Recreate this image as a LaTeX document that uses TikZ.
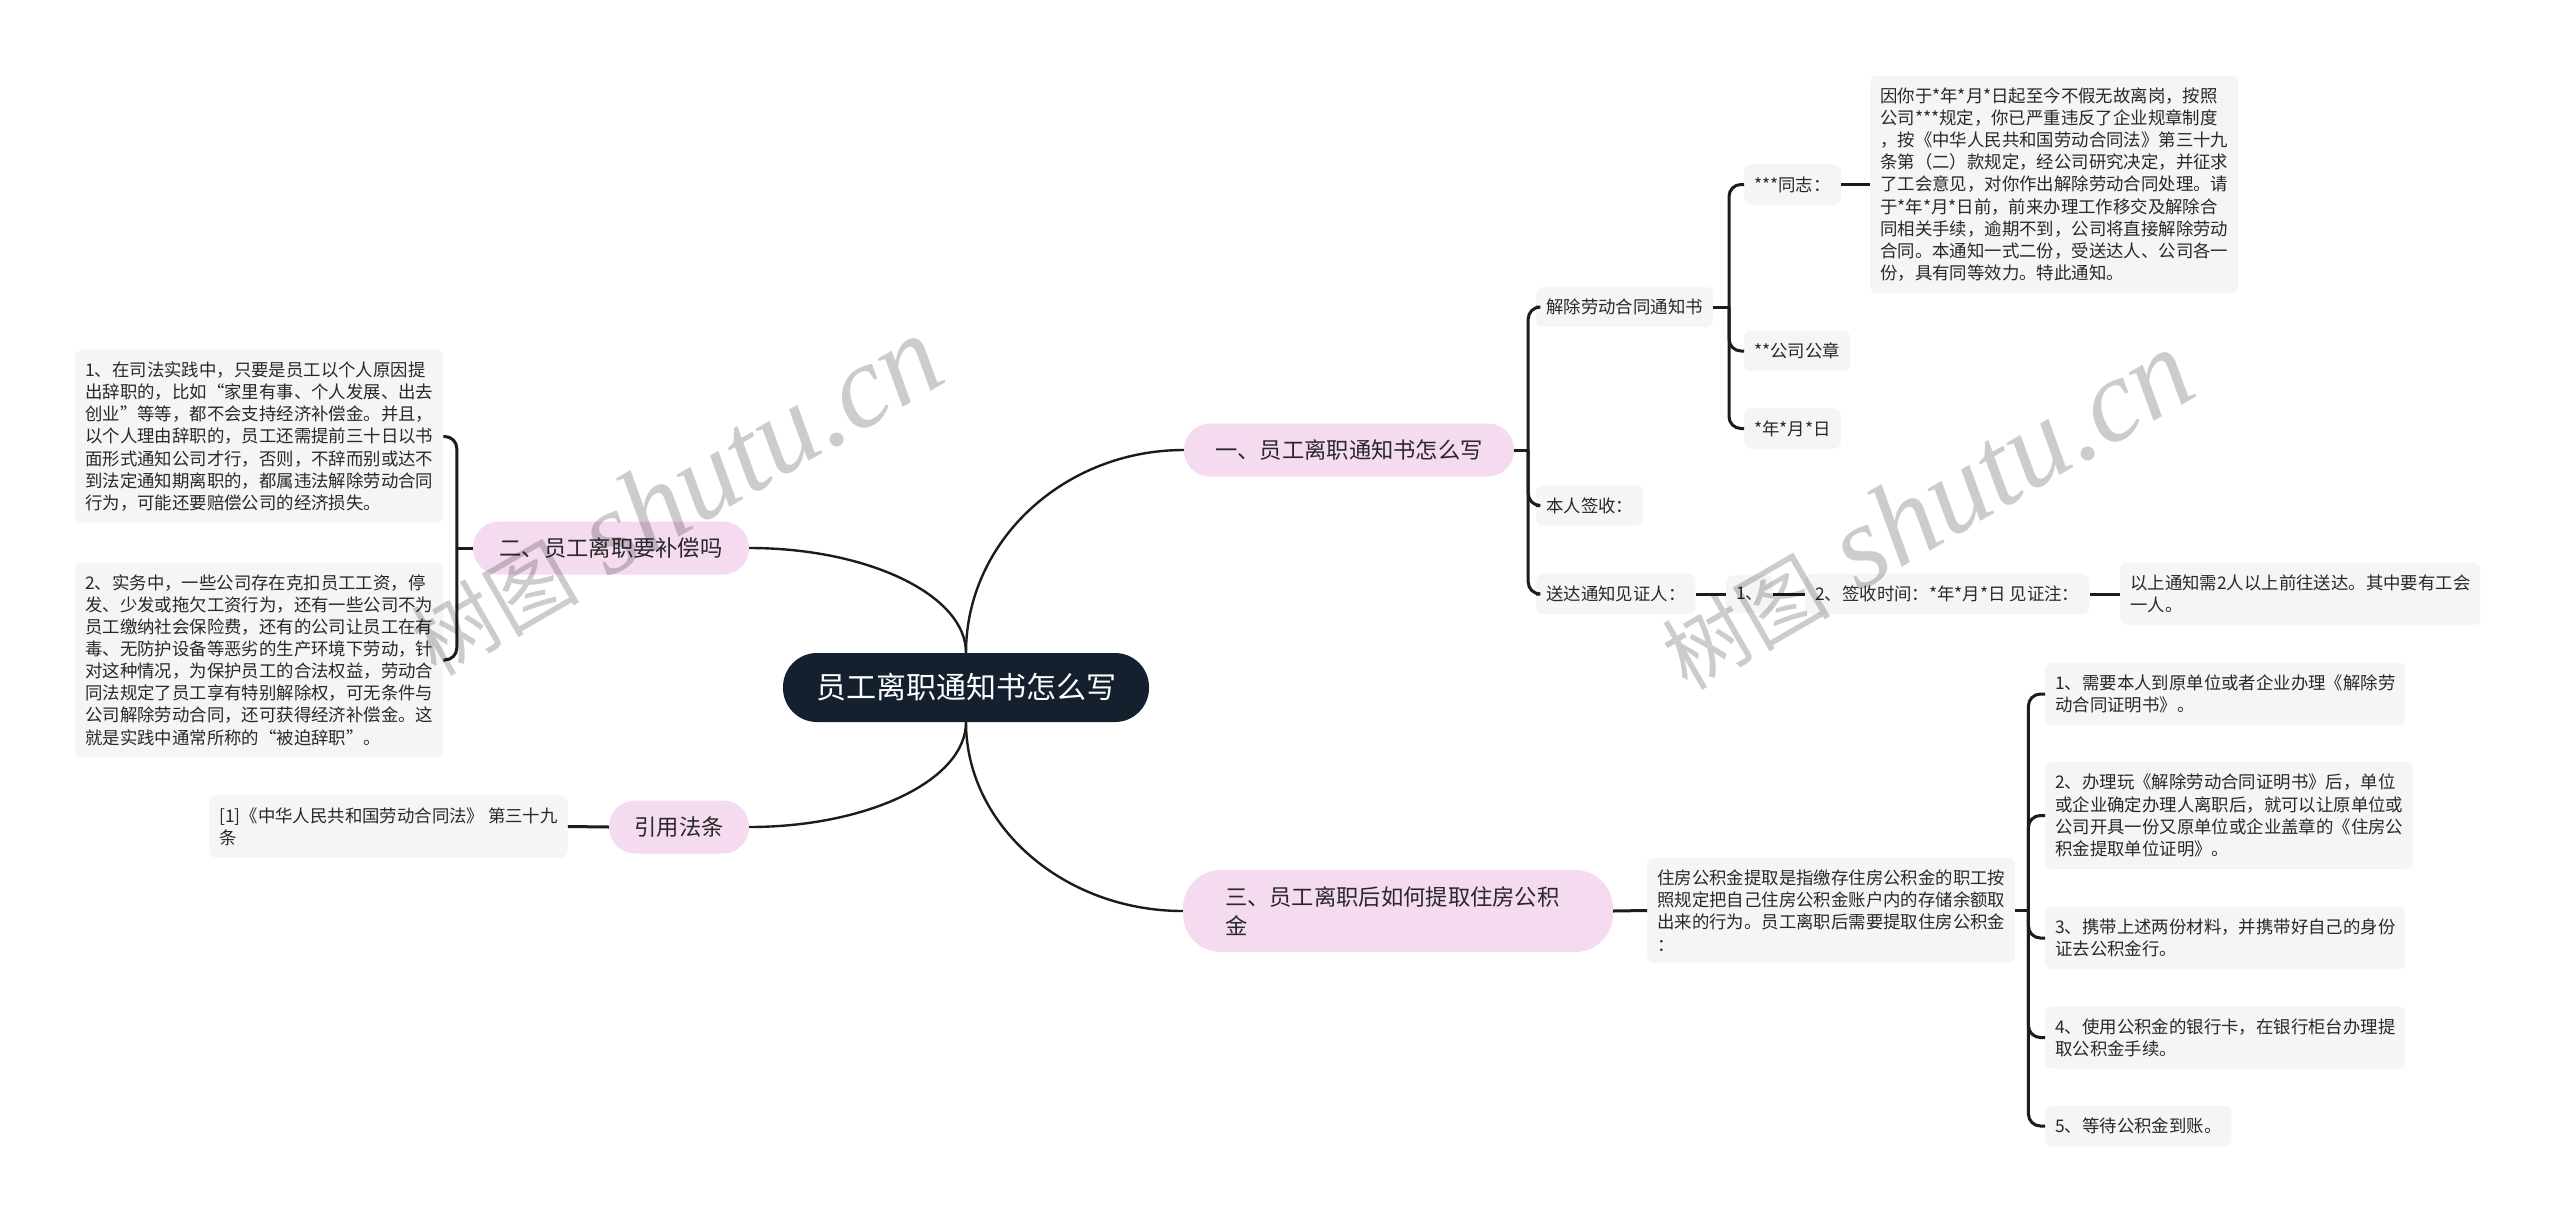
\documentclass[tikz,border=0pt]{standalone}
\usepackage{fontspec}
\newfontfamily\cjk{Noto Sans CJK SC}
\newfontfamily\wmlat{Liberation Serif}
\definecolor{pinkfill}{RGB}{245,219,239}
\definecolor{rootfill}{RGB}{21,32,47}
\definecolor{leafgray}{RGB}{245,245,245}
\definecolor{linecol}{RGB}{28,28,28}
\definecolor{txt}{RGB}{40,40,40}
\begin{document}
\begin{tikzpicture}[x=1pt,y=-1pt,
  leaf/.style={fill=leafgray, rounded corners=7pt, inner xsep=10pt, inner ysep=12pt,
    align=left, anchor=west, text=txt, font=\cjk\fontsize{17.4}{22.1}\selectfont},
  branch/.style={fill=pinkfill, rounded corners=26pt, minimum height=53pt, inner xsep=0pt,
    text=txt, font=\cjk\fontsize{22.3}{29}\selectfont},
  rootbox/.style={fill=rootfill, text=white, rounded corners=34pt, minimum height=69pt,
    minimum width=366pt, font=\cjk\fontsize{30}{36}\selectfont},
  conn/.style={draw=linecol, line width=3pt, rounded corners=12pt},
  curve/.style={draw=linecol, line width=2.4pt},
  wm/.style={rotate=30, text=black, text opacity=0.2, inner sep=0pt}
]
\useasboundingbox (0,0) rectangle (2560,1221);
\fill[white] (0,0) rectangle (2560,1221);

% root and main branches
\node[rootbox] (root) at (966,687.5) {员工离职通知书怎么写};
\node[branch, minimum width=330pt] (b1) at (1349,450) {一、员工离职通知书怎么写};
\node[branch, minimum width=276pt] (b2) at (611,548) {二、员工离职要补偿吗};
\node[branch, minimum width=430pt, minimum height=82pt, rounded corners=38pt, align=left,
  text width=346pt, inner xsep=42pt] (b3) at (1398,911) {三、员工离职后如何提取住房公积\\金};
\node[branch, minimum width=140pt] (b4) at (679,827) {引用法条};

% branch 1 subtree
\node[leaf] (n1) at (1536,307) {解除劳动合同通知书};
\node[leaf] (n11) at (1744,184.5) {***同志：};
\node[leaf] (n111) at (1870,184.5) {因你于*年*月*日起至今不假无故离岗，按照\\
公司***规定，你已严重违反了企业规章制度\\
，按《中华人民共和国劳动合同法》第三十九\\
条第（二）款规定，经公司研究决定，并征求\\
了工会意见，对你作出解除劳动合同处理。请\\
于*年*月*日前，前来办理工作移交及解除合\\
同相关手续，逾期不到，公司将直接解除劳动\\
合同。本通知一式二份，受送达人、公司各一\\
份，具有同等效力。特此通知。};
\node[leaf] (n12) at (1744,351) {**公司公章};
\node[leaf] (n13) at (1744,428.5) {*年*月*日};
\node[leaf] (n2) at (1536,505.5) {本人签收：};
\node[leaf] (n3) at (1536,594) {送达通知见证人：};
\node[leaf] (n31) at (1726,594) {1、};
\node[leaf] (n32) at (1805,594) {2、签收时间：*年*月*日 见证注：};
\node[leaf] (n33) at (2120,594) {以上通知需2人以上前往送达。其中要有工会\\一人。};

% branch 3 subtree
\node[leaf] (s0) at (1647,910.5) {住房公积金提取是指缴存住房公积金的职工按\\
照规定把自己住房公积金账户内的存储余额取\\
出来的行为。员工离职后需要提取住房公积金\\
：};
\node[leaf] (s1) at (2045,694) {1、需要本人到原单位或者企业办理《解除劳\\动合同证明书》。};
\node[leaf] (s2) at (2045,815.5) {2、办理玩《解除劳动合同证明书》后，单位\\
或企业确定办理人离职后，就可以让原单位或\\
公司开具一份又原单位或企业盖章的《住房公\\
积金提取单位证明》。};
\node[leaf] (s3) at (2045,938) {3、携带上述两份材料，并携带好自己的身份\\证去公积金行。};
\node[leaf] (s4) at (2045,1037.5) {4、使用公积金的银行卡，在银行柜台办理提\\取公积金手续。};
\node[leaf] (s5) at (2045,1126) {5、等待公积金到账。};

% branch 2 subtree
\node[leaf] (l1) at (75,436.5) {1、在司法实践中，只要是员工以个人原因提\\
出辞职的，比如“家里有事、个人发展、出去\\
创业”等等，都不会支持经济补偿金。并且，\\
以个人理由辞职的，员工还需提前三十日以书\\
面形式通知公司才行，否则，不辞而别或达不\\
到法定通知期离职的，都属违法解除劳动合同\\
行为，可能还要赔偿公司的经济损失。};
\node[leaf] (l2) at (75,660) {2、实务中，一些公司存在克扣员工工资，停\\
发、少发或拖欠工资行为，还有一些公司不为\\
员工缴纳社会保险费，还有的公司让员工在有\\
毒、无防护设备等恶劣的生产环境下劳动，针\\
对这种情况，为保护员工的合法权益，劳动合\\
同法规定了员工享有特别解除权，可无条件与\\
公司解除劳动合同，还可获得经济补偿金。这\\
就是实践中通常所称的“被迫辞职”。};

% branch 4 subtree
\node[leaf] (r1) at (209,826.5) {[1]《中华人民共和国劳动合同法》 第三十九\\条};

% root curves
\draw[curve] (root.north) .. controls (966,541) and (1064,450) .. (b1.west);
\draw[curve] (root.north) .. controls (966,595) and (868,548) .. (b2.east);
\draw[curve] (root.south) .. controls (966,826) and (1064,911) .. (b3.west);
\draw[curve] (root.south) .. controls (966,780) and (868,827) .. (b4.east);

% branch 1 connectors
\path (b1.east) ++(14,0) coordinate (j1);
\draw[conn] (b1.east) -- (j1);
\draw[conn] (j1) |- (n1.west);
\draw[conn] (j1) |- (n2.west);
\draw[conn] (j1) |- (n3.west);
\path (n1.east) ++(16,0) coordinate (j11);
\draw[conn] (n1.east) -- (j11);
\draw[conn] (j11) |- (n11.west);
\draw[conn] (j11) |- (n12.west);
\draw[conn] (j11) |- (n13.west);
\draw[conn] (n11.east) -- (n111.west);
\draw[conn] (n3.east) -- (n31.west);
\draw[conn] (n31.east) -- (n32.west);
\draw[conn] (n32.east) -- (n33.west);

% branch 3 connectors
\draw[conn] (b3.east) -- (s0.west);
\path (s0.east) ++(13,0) coordinate (j3);
\draw[conn] (s0.east) -- (j3);
\draw[conn] (j3) |- (s1.west);
\draw[conn] (j3) |- (s2.west);
\draw[conn] (j3) |- (s3.west);
\draw[conn] (j3) |- (s4.west);
\draw[conn] (j3) |- (s5.west);

% branch 2 connectors
\path (b2.west) ++(-16,0) coordinate (j2);
\draw[conn] (b2.west) -- (j2);
\draw[conn] (j2) |- (l1.east);
\draw[conn] (j2) |- (l2.east);

% branch 4 connector
\draw[conn] (b4.west) -- (r1.east);

% watermarks
\node[wm] (wm1) at (675,496) {{\cjk\fontsize{84}{84}\selectfont 树图}{\wmlat\itshape\fontsize{118}{118}\selectfont\ shutu.cn}};
\node[wm] (wm2) at (1926,510) {{\cjk\fontsize{84}{84}\selectfont 树图}{\wmlat\itshape\fontsize{118}{118}\selectfont\ shutu.cn}};
\end{tikzpicture}
\end{document}
